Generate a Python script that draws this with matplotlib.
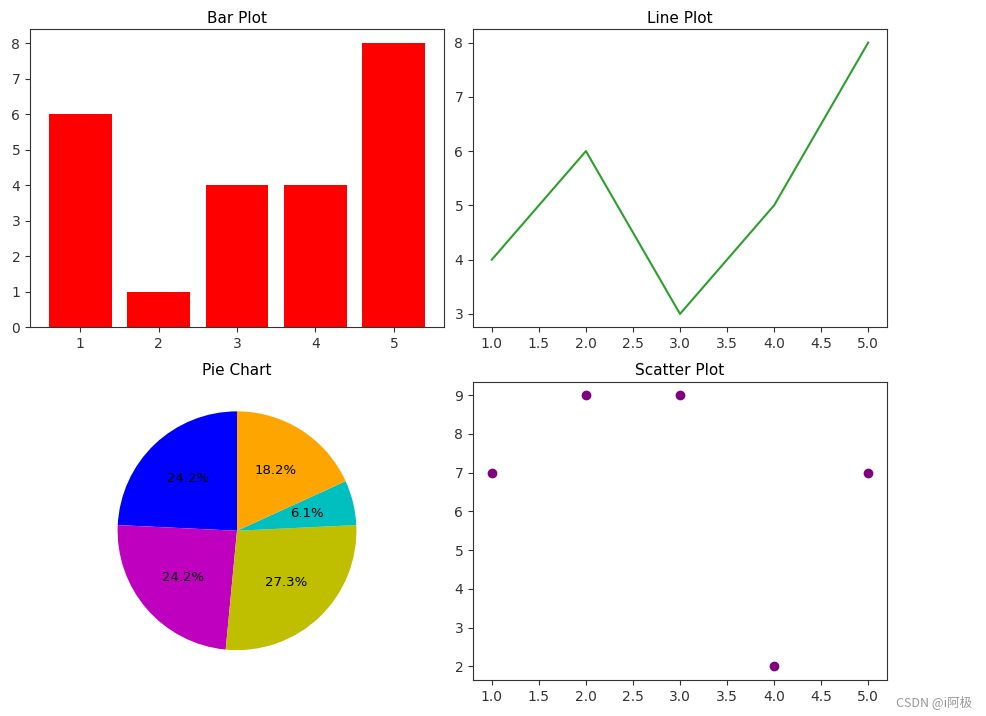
import matplotlib.pyplot as plt

# data
bar_x = [1, 2, 3, 4, 5]
bar_y = [6, 1, 4, 4, 8]

line_x = [1, 2, 3, 4, 5]
line_y = [4, 6, 3, 5, 8]

pie_sizes = [8, 8, 9, 2, 6]
pie_colors = ['b', 'm', 'y', 'c', 'orange']

scatter_x = [1, 2, 3, 4, 5]
scatter_y = [7, 9, 9, 2, 7]

plt.rcParams['axes.titlesize'] = 11
plt.rcParams['axes.titlepad'] = 4.5
plt.rcParams['axes.edgecolor'] = '#333333'
plt.rcParams['xtick.color'] = '#333333'
plt.rcParams['ytick.color'] = '#333333'

fig, axs = plt.subplots(2, 2, figsize=(9.87, 7.16), dpi=100)
fig.subplots_adjust(left=0.0304, right=0.8987, top=0.9595, bottom=0.0503,
                    wspace=0.07, hspace=0.181)

# bar plot
axs[0, 0].bar(bar_x, bar_y, color='red')
axs[0, 0].set_title('Bar Plot')

# line plot
axs[0, 1].plot(line_x, line_y, color='tab:green')
axs[0, 1].set_title('Line Plot')

# pie chart
axs[1, 0].pie(pie_sizes, colors=pie_colors, autopct='%1.1f%%', startangle=90,
              textprops={'fontsize': 9.5})
axs[1, 0].set_title('Pie Chart')
axs[1, 0].set_xlim(-1.25, 1.25)
axs[1, 0].set_ylim(-1.25, 1.25)

# scatter plot
axs[1, 1].scatter(scatter_x, scatter_y, color='purple')
axs[1, 1].set_title('Scatter Plot')

# watermark
fig.text(0.985, 0.01, 'CSDN @i阿极', ha='right', va='bottom', fontsize=9,
         color='#999999', family=['Noto Sans CJK SC', 'DejaVu Sans'])

plt.savefig('out.png', dpi=100)
